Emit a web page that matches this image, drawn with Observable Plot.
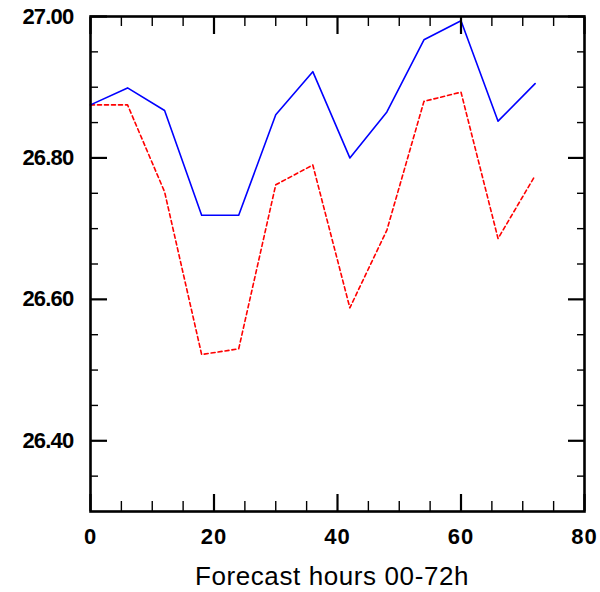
<!DOCTYPE html>
<html>
<head>
<meta charset="utf-8">
<script src="https://cdn.jsdelivr.net/npm/d3@7"></script>
<script src="https://cdn.jsdelivr.net/npm/@observablehq/plot@0.6"></script>
<style>
  html, body { margin: 0; padding: 0; background: white; }
  svg { display: block; }
  .ylab text { letter-spacing: -0.8px; }
  .xlab text { letter-spacing: 1px; }
  .xtitle text { letter-spacing: 0.6px; }
</style>
</head>
<body>
<div id="chart"></div>
<script>
const hours = [0, 6, 12, 18, 24, 30, 36, 42, 48, 54, 60, 66, 72];
const blueSeries = [26.875, 26.899, 26.867, 26.719, 26.719, 26.861, 26.922, 26.800, 26.865, 26.967, 26.994, 26.852, 26.905];
const redSeries  = [26.875, 26.875, 26.752, 26.522, 26.530, 26.762, 26.790, 26.588, 26.698, 26.880, 26.893, 26.686, 26.775];

const xMajor = [0, 20, 40, 60, 80];
const xMinor = [5, 10, 15, 25, 30, 35, 45, 50, 55, 65, 70, 75];
const yMajor = [26.40, 26.60, 26.80, 27.00];
const yMinor = [26.35, 26.45, 26.50, 26.55, 26.65, 26.70, 26.75, 26.85, 26.90, 26.95];
const xTitle = "Forecast hours 00-72h";

const blueData = hours.map((h, i) => ({h, v: blueSeries[i]}));
const redData = hours.map((h, i) => ({h, v: redSeries[i]}));

const noText = () => "";
const chart = Plot.plot({
  width: 600,
  height: 592,
  marginLeft: 90,
  marginRight: 16,
  marginTop: 16,
  marginBottom: 81,
  x: {domain: [0, 80]},
  y: {domain: [26.30, 27.00]},
  style: {fontFamily: "'Liberation Sans', Arial, sans-serif", background: "white", color: "black"},
  marks: [
    Plot.line(redData, {x: "h", y: "v", stroke: "#ff0000", strokeWidth: 1.6, strokeDasharray: "4,3"}),
    Plot.line(blueData, {x: "h", y: "v", stroke: "#0000ff", strokeWidth: 1.6}),
    // inward ticks
    Plot.axisY(yMajor, {anchor: "left", tickSize: -17, strokeWidth: 2.2, tickFormat: noText, label: null}),
    Plot.axisY(yMinor, {anchor: "left", tickSize: -8, strokeWidth: 1.4, tickFormat: noText, label: null}),
    Plot.axisY(yMajor, {anchor: "right", tickSize: -17, strokeWidth: 2.2, tickFormat: noText, label: null}),
    Plot.axisY(yMinor, {anchor: "right", tickSize: -8, strokeWidth: 1.4, tickFormat: noText, label: null}),
    Plot.axisX(xMajor, {anchor: "bottom", tickSize: -17, strokeWidth: 2.2, tickFormat: noText, label: null}),
    Plot.axisX(xMinor, {anchor: "bottom", tickSize: -10, strokeWidth: 1.4, tickFormat: noText, label: null}),
    Plot.axisX(xMajor, {anchor: "top", tickSize: -17, strokeWidth: 2.2, tickFormat: noText, label: null}),
    Plot.axisX(xMinor, {anchor: "top", tickSize: -9, strokeWidth: 1.4, tickFormat: noText, label: null}),
    // labels
    Plot.axisY(yMajor, {anchor: "left", tickSize: 0, tickPadding: 17, tickFormat: d3.format(".2f"), fontSize: 22, fontWeight: "bold", label: null, className: "ylab"}),
    Plot.axisX(xMajor, {anchor: "bottom", tickSize: 0, tickPadding: 17, tickFormat: d3.format("d"), fontSize: 22, fontWeight: "bold", label: null, className: "xlab"}),
    Plot.text([xTitle], {frameAnchor: "bottom", dy: 65.5, dx: -5.5, fontSize: 26, lineAnchor: "middle", fill: "black", className: "xtitle"}),
    Plot.frame({stroke: "black", strokeWidth: 2.6})
  ]
});
document.getElementById("chart").appendChild(chart);
</script>
</body>
</html>
